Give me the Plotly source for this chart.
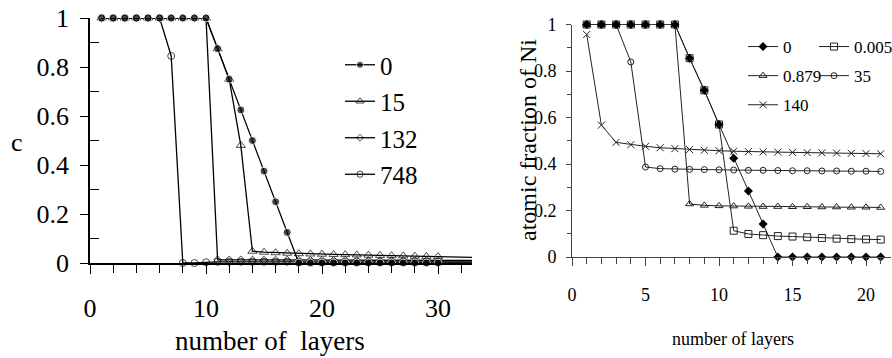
import plotly.graph_objects as go

W, H = 892, 358
FONT = "Liberation Serif"

# ---------------- left panel data ----------------
left_x = list(range(1, 35))
left_names = ["0", "15", "132", "748"]
left_s0 = [1]*10 + [0.875, 0.75, 0.625, 0.5, 0.375, 0.25, 0.125] + [0]*17
left_s15 = [1]*10 + [0.875, 0.75, 0.48, 0.048, 0.044, 0.042, 0.040, 0.038, 0.037, 0.036,
                     0.035, 0.034, 0.033, 0.032, 0.031, 0.030, 0.029, 0.028, 0.027, 0.026,
                     0.025, 0.024, 0.023, 0.022]
left_s132 = [1]*10 + [0.013, 0.013, 0.013, 0.012, 0.012, 0.012, 0.012, 0.011, 0.011, 0.011,
                      0.011, 0.011, 0.010, 0.010, 0.010, 0.010, 0.010, 0.010, 0.010, 0.010,
                      0.010, 0.010, 0.010, 0.010]
left_s748 = [1]*6 + [0.845, 0.0, 0.0, 0.003] + [0.005]*24
left_last_marker = 30

# ---------------- right panel data ----------------
right_x = list(range(1, 22))
right_names = ["0", "0.005", "0.879", "35", "140"]
right_s0 = [1]*7 + [0.855, 0.717, 0.57, 0.425, 0.284, 0.142] + [0]*8
right_s0005 = [1]*7 + [0.855, 0.717, 0.57, 0.113, 0.099, 0.094, 0.090, 0.088, 0.085,
                      0.082, 0.079, 0.077, 0.076, 0.075]
right_s0879 = [1]*7 + [0.228, 0.222, 0.220, 0.219, 0.218, 0.217, 0.217, 0.216, 0.216,
                      0.215, 0.215, 0.214, 0.214, 0.213]
right_s35 = [1]*3 + [0.839, 0.387, 0.380, 0.378, 0.377, 0.376, 0.375, 0.374, 0.373, 0.373,
                     0.372, 0.371, 0.371, 0.370, 0.370, 0.369, 0.369, 0.368]
right_s140 = [0.957, 0.567, 0.493, 0.483, 0.476, 0.470, 0.466, 0.462, 0.459, 0.457, 0.455,
              0.453, 0.452, 0.451, 0.450, 0.449, 0.448, 0.447, 0.446, 0.445, 0.444]

fig = go.Figure()

def msizes(n, size):
    return [size if x <= left_last_marker else 0 for x in left_x[:n]]

left_styles = [
    (left_s0, dict(symbol="circle", size=msizes(len(left_s0), 8), color="black")),
    (left_s15, dict(symbol="triangle-up-open", size=msizes(len(left_s15), 8), color="black", line=dict(width=1))),
    (left_s132, dict(symbol="diamond-open", size=msizes(len(left_s132), 6), color="black", line=dict(width=1))),
    (left_s748, dict(symbol="circle-open", size=msizes(len(left_s748), 7), color="black", line=dict(width=1))),
]
order = [3, 2, 1, 0]
for i in order:
    ys, mk = left_styles[i]
    fig.add_trace(go.Scatter(
        x=left_x, y=ys, name=left_names[i], mode="lines+markers",
        line=dict(color="black", width=1.3), marker=mk, cliponaxis=False,
        xaxis="x", yaxis="y", legend="legend", legendrank=i+1,
        legendgroup="L" + str(i)))

rc = "#222222"
right_styles = [
    (right_s0005, dict(symbol="square-open", size=7, color=rc, line=dict(width=1)), "legend3", 1),
    (right_s35, dict(symbol="circle-open", size=6, color=rc, line=dict(width=1)), "legend3", 2),
    (right_s0879, dict(symbol="triangle-up-open", size=7, color=rc, line=dict(width=1)), "legend2", 2),
    (right_s140, dict(symbol="x-thin-open", size=7, color=rc, line=dict(width=1)), "legend2", 3),
    (right_s0, dict(symbol="diamond", size=7, color="black"), "legend2", 1),
]
rnames = ["0.005", "35", "0.879", "140", "0"]
for (ys, mk, lg, rank), nm in zip(right_styles, rnames):
    fig.add_trace(go.Scatter(
        x=right_x, y=ys, name=nm, mode="lines+markers",
        line=dict(color=rc, width=1), marker=mk, cliponaxis=False,
        xaxis="x2", yaxis="y2", legend=lg, legendrank=rank,
        legendgroup="R" + nm))

def px(v):
    return v / W

def py(v):
    return 1 - v / H

lx0, lx1 = 90, 472
ly1, ly0 = 18, 263
rx0, rx1 = 572, 891
ry1, ry0 = 24.5, 257

lfont = dict(family=FONT, size=26, color="black")
rfont = dict(family=FONT, size=18, color="black")

common = dict(showgrid=False, zeroline=False)

fig.update_layout(
    width=W, height=H, margin=dict(l=0, r=0, t=0, b=0, pad=0, autoexpand=False),
    paper_bgcolor="white", plot_bgcolor="white",
    xaxis=dict(domain=[px(lx0), px(lx1)], range=[0, (lx1 - lx0) / 11.6], anchor="y",
               showline=True, linecolor="black", linewidth=1.5,
               ticks="outside", ticklen=9, tickwidth=1.2, tickcolor="black",
               tickvals=[0, 10, 20, 30], tickfont=lfont, ticklabelstandoff=12,
               minor=dict(tickvals=list(range(0, 34, 2)), ticks="outside", ticklen=8,
                          tickwidth=1, tickcolor="black"), **common),
    xaxis3=dict(overlaying="x", anchor="y", range=[0, (lx1 - lx0) / 11.6],
                ticks="inside", ticklen=7, tickwidth=1.2, tickcolor="black",
                tickvals=[0, 10, 20, 30], showticklabels=False, showline=False, **common),
    yaxis=dict(domain=[py(ly0), py(ly1)], range=[0, 1], anchor="x",
               showline=True, linecolor="black", linewidth=1.5,
               ticks="outside", ticklen=8, tickwidth=1.2, tickcolor="black",
               tickvals=[0, 0.2, 0.4, 0.6, 0.8, 1], ticktext=["0", "0.2", "0.4", "0.6", "0.8", "1"],
               tickfont=lfont, ticklabelstandoff=6,
               minor=dict(tickvals=[0.1, 0.3, 0.5, 0.7, 0.9], ticks="inside", ticklen=9,
                          tickwidth=1, tickcolor="black"), **common),
    yaxis3=dict(overlaying="y", anchor="x", range=[0, 1], side="left",
                ticks="inside", ticklen=9, tickwidth=1.2, tickcolor="black",
                tickvals=[0, 0.2, 0.4, 0.6, 0.8, 1], showticklabels=False, showline=False, **common),
    xaxis2=dict(domain=[px(rx0), px(rx1)], range=[0, (rx1 - rx0) / 14.7], anchor="y2",
                showline=True, linecolor="#444444", linewidth=1,
                ticks="outside", ticklen=8, tickwidth=1, tickcolor="#444444",
                tickvals=[0, 5, 10, 15, 20], tickfont=rfont, ticklabelstandoff=13,
                minor=dict(tickvals=list(range(0, 22)), ticks="outside", ticklen=6,
                           tickwidth=1, tickcolor="#444444"), **common),
    xaxis4=dict(overlaying="x2", anchor="y2", range=[0, (rx1 - rx0) / 14.7],
                ticks="inside", ticklen=9, tickwidth=1, tickcolor="#444444",
                tickvals=[5, 10, 15, 20], showticklabels=False, showline=False, **common),
    yaxis2=dict(domain=[py(ry0), py(ry1)], range=[0, 1], anchor="x2",
                showline=True, linecolor="#444444", linewidth=1,
                ticks="outside", ticklen=5, tickwidth=1, tickcolor="#444444",
                tickvals=[0, 0.2, 0.4, 0.6, 0.8, 1], ticktext=["0", "0.2", "0.4", "0.6", "0.8", "1"],
                tickfont=rfont, ticklabelstandoff=6,
                minor=dict(tickvals=[0.1, 0.3, 0.5, 0.7, 0.9], ticks="outside", ticklen=4,
                           tickwidth=1, tickcolor="#444444"), **common),
    yaxis4=dict(overlaying="y2", anchor="x2", range=[0, 1], side="left",
                ticks="inside", ticklen=6, tickwidth=1, tickcolor="#444444",
                tickvals=[0, 0.2, 0.4, 0.6, 0.8, 1], showticklabels=False, showline=False, **common),
    legend=dict(x=px(362 - 22), y=py(65 - 23), xanchor="left", yanchor="top",
                font=dict(family=FONT, size=25, color="black"), bgcolor="rgba(0,0,0,0)",
                tracegroupgap=1, borderwidth=0),
    legend2=dict(x=px(763 - 20), y=py(47 - 18), xanchor="left", yanchor="top",
                 font=dict(family=FONT, size=17, color="black"), bgcolor="rgba(0,0,0,0)",
                 tracegroupgap=4, borderwidth=0),
    legend3=dict(x=px(834 - 20), y=py(47 - 18), xanchor="left", yanchor="top",
                 font=dict(family=FONT, size=17, color="black"), bgcolor="rgba(0,0,0,0)",
                 tracegroupgap=4, borderwidth=0),
    annotations=[
        dict(text="number of  layers", x=px(270), y=py(341), xref="paper", yref="paper",
             showarrow=False, font=dict(family=FONT, size=27, color="black"),
             xanchor="center", yanchor="middle"),
        dict(text="c", x=px(17), y=py(142), xref="paper", yref="paper",
             showarrow=False, font=dict(family=FONT, size=26, color="black"),
             xanchor="center", yanchor="middle"),
        dict(text="number of layers", x=px(733), y=py(339), xref="paper", yref="paper",
             showarrow=False, font=dict(family=FONT, size=18, color="black"),
             xanchor="center", yanchor="middle"),
        dict(text="atomic fraction of Ni", x=px(528), y=py(140), xref="paper", yref="paper",
             showarrow=False, font=dict(family=FONT, size=24, color="black"),
             textangle=-90, xanchor="center", yanchor="middle"),
    ],
)

fig.write_html("out.html")
